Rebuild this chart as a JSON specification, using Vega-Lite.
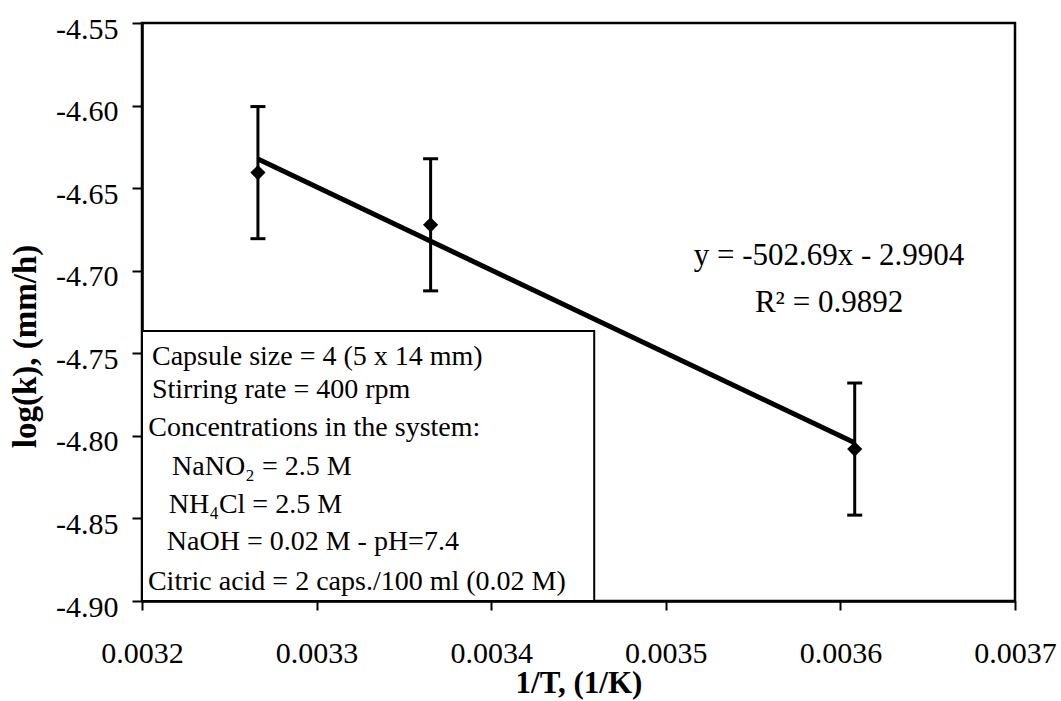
{
  "$schema": "https://vega.github.io/schema/vega-lite/v6.json",
  "width": 873,
  "height": 578,
  "autosize": {"type": "none"},
  "padding": {"left": 142, "top": 23, "right": 46, "bottom": 100},
  "background": "white",
  "config": {
    "view": {"stroke": "black", "strokeWidth": 2.5},
    "font": "Liberation Serif",
    "axis": {
      "grid": false,
      "domainColor": "black",
      "domainWidth": 2.5,
      "tickColor": "black",
      "tickWidth": 2,
      "labelColor": "black",
      "titleColor": "black",
      "labelFont": "Liberation Serif",
      "titleFont": "Liberation Serif"
    }
  },
  "datasets": {
    "points": [
      {"x": 0.0032664, "y": -4.6406, "lo": -4.6806, "hi": -4.6006},
      {"x": 0.0033653, "y": -4.6722, "lo": -4.7122, "hi": -4.6322},
      {"x": 0.0036082, "y": -4.8080, "lo": -4.8480, "hi": -4.7680}
    ],
    "trend": [
      {"x": 0.0032664, "y": -4.6324},
      {"x": 0.0036082, "y": -4.8042}
    ],
    "box": [
      {"x": 0.0032, "x2": 0.003459, "y": -4.90, "y2": -4.7365}
    ],
    "notes": [
      {"x": 0.0032057, "y": -4.7571, "label": "Capsule size = 4 (5 x 14 mm)"},
      {"x": 0.0032057, "y": -4.7771, "label": "Stirring rate = 400 rpm"},
      {"x": 0.0032036, "y": -4.8001, "label": "Concentrations in the system:"},
      {"x": 0.0032172, "y": -4.8237, "label": "NaNO₂ = 2.5 M"},
      {"x": 0.0032153, "y": -4.8467, "label": "NH₄Cl = 2.5 M"},
      {"x": 0.0032142, "y": -4.8691, "label": "NaOH = 0.02 M - pH=7.4"},
      {"x": 0.0032034, "y": -4.8933, "label": "Citric acid = 2 caps./100 ml (0.02 M)"}
    ],
    "equation": [
      {"x": 0.0035935, "y": -4.6965, "label": "y = -502.69x - 2.9904"},
      {"x": 0.0035935, "y": -4.7248, "label": "R² = 0.9892"}
    ]
  },
  "encoding": {
    "x": {
      "field": "x",
      "type": "quantitative",
      "scale": {"domain": [0.0032, 0.0037], "nice": false, "zero": false},
      "axis": {
        "title": "1/T, (1/K)",
        "values": [0.0032, 0.0033, 0.0034, 0.0035, 0.0036, 0.0037],
        "format": ".4f",
        "labelFont": "Liberation Serif",
        "labelFontSize": 30,
        "tickSize": 9,
        "labelPadding": 52,
        "labelBaseline": "alphabetic",
        "labelFlush": false,
        "labelOverlap": false,
        "titleFont": "Liberation Serif",
        "titleFontSize": 31,
        "titleFontWeight": "bold",
        "titleY": 91,
        "titleBaseline": "alphabetic"
      }
    },
    "y": {
      "field": "y",
      "type": "quantitative",
      "scale": {"domain": [-4.9, -4.55], "nice": false, "zero": false},
      "axis": {
        "title": "log(k), (mm/h)",
        "values": [-4.9, -4.85, -4.8, -4.75, -4.7, -4.65, -4.6, -4.55],
        "labelExpr": "replace(format(datum.value, '.2f'), '−', '-')",
        "labelFont": "Liberation Serif",
        "labelFontSize": 30,
        "tickSize": 10,
        "labelPadding": 14,
        "labelOffset": 6,
        "labelFlush": false,
        "labelOverlap": false,
        "titleFont": "Liberation Serif",
        "titleFontSize": 33,
        "titleFontWeight": "bold",
        "titleAngle": 270,
        "titleX": -117,
        "titleY": 323,
        "titleBaseline": "middle"
      }
    }
  },
  "layer": [
    {
      "data": {"name": "box"},
      "mark": {"type": "rect", "fill": "white", "stroke": "black", "strokeWidth": 2},
      "encoding": {
        "x2": {"field": "x2"},
        "y2": {"field": "y2"}
      }
    },
    {
      "data": {"name": "trend"},
      "mark": {"type": "line", "color": "black", "strokeWidth": 5}
    },
    {
      "data": {"name": "points"},
      "mark": {"type": "rule", "color": "black", "strokeWidth": 3},
      "encoding": {
        "y": {"field": "lo", "type": "quantitative"},
        "y2": {"field": "hi"}
      }
    },
    {
      "data": {"name": "points"},
      "mark": {"type": "tick", "orient": "horizontal", "size": 15, "thickness": 3, "color": "black", "opacity": 1},
      "encoding": {
        "y": {"field": "lo", "type": "quantitative"}
      }
    },
    {
      "data": {"name": "points"},
      "mark": {"type": "tick", "orient": "horizontal", "size": 15, "thickness": 3, "color": "black", "opacity": 1},
      "encoding": {
        "y": {"field": "hi", "type": "quantitative"}
      }
    },
    {
      "data": {"name": "points"},
      "mark": {"type": "point", "shape": "diamond", "filled": true, "color": "black", "size": 230, "opacity": 1}
    },
    {
      "data": {"name": "notes"},
      "mark": {"type": "text", "align": "left", "baseline": "alphabetic", "fontSize": 28, "font": "Liberation Serif", "color": "black"},
      "encoding": {"text": {"field": "label"}}
    },
    {
      "data": {"name": "equation"},
      "mark": {"type": "text", "align": "center", "baseline": "alphabetic", "fontSize": 31, "font": "Liberation Serif", "color": "black"},
      "encoding": {"text": {"field": "label"}}
    }
  ]
}
